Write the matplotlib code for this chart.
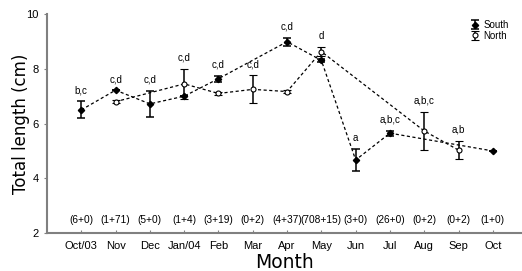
import numpy as np
import matplotlib
matplotlib.use("Agg")
import matplotlib.pyplot as plt

months = ["Oct/03", "Nov", "Dec", "Jan/04", "Feb", "Mar", "Apr", "May",
          "Jun", "Jul", "Aug", "Sep", "Oct"]
nan = np.nan
south_mean = [6.50, 7.22, 6.72, 7.00, 7.64, nan, 8.99, 8.31, 4.67, 5.65, nan, nan, 5.00]
south_err = [0.31, 0.0, 0.47, 0.0, 0.11, nan, 0.14, 0.05, 0.39, 0.09, nan, nan, 0.0]
north_mean = [nan, 6.80, nan, 7.45, 7.10, 7.25, 7.17, 8.63, nan, nan, 5.73, 5.03, nan]
north_err = [nan, 0.05, nan, 0.55, 0.07, 0.51, 0.07, 0.16, nan, nan, 0.70, 0.33, nan]
letters = ["b,c", "c,d", "c,d", "c,d", "c,d", "c,d", "c,d", "d", "a", "a,b,c",
           "a,b,c", "a,b", ""]
counts = ["(6+0)", "(1+71)", "(5+0)", "(1+4)", "(3+19)", "(0+2)", "(4+37)",
          "(708+15)", "(3+0)", "(26+0)", "(0+2)", "(0+2)", "(1+0)"]

plt.rcParams['font.family'] = ['Liberation Sans', 'DejaVu Sans']
fig = plt.figure(figsize=(5.22, 2.71), dpi=100)
ax = fig.add_axes([0.090, 0.140, 0.910, 0.808])

x = np.arange(1, len(months) + 1)
sm = np.array(south_mean); se = np.array(south_err)
nm = np.array(north_mean); ne = np.array(north_err)

dash = (0, (2.5, 2))
ms = ~np.isnan(sm)
mn = ~np.isnan(nm)
ax.plot(x[ms], sm[ms], color='black', lw=0.9, ls=dash, zorder=2)
ax.plot(x[mn], nm[mn], color='black', lw=0.9, ls=dash, zorder=2)

hs = ax.errorbar(x[ms], sm[ms], yerr=np.nan_to_num(se[ms]), fmt='D', ms=3.2,
                 mfc='black', mec='black', ecolor='black', elinewidth=1.1,
                 capsize=3, capthick=1.1, zorder=3, label='South')
hn = ax.errorbar(x[mn], nm[mn], yerr=np.nan_to_num(ne[mn]), fmt='o', ms=3.6,
                 mfc='white', mec='black', mew=0.8, ecolor='black', elinewidth=1.1,
                 capsize=3, capthick=1.1, zorder=3, label='North')

# significance letters above the highest point/error bar
for i in range(len(months)):
    if not letters[i]:
        continue
    tops = []
    if not np.isnan(sm[i]):
        tops.append(sm[i] + se[i])
    if not np.isnan(nm[i]):
        tops.append(nm[i] + ne[i])
    ax.annotate(letters[i], (x[i], max(tops)), xytext=(0, 8),
                textcoords='offset points', ha='center', va='center', fontsize=7)

for i, c in enumerate(counts):
    ax.text(x[i], 2.47, c, ha='center', va='center', fontsize=7.3)

ax.set_xlim(0, 13.85)
ax.set_ylim(2, 10)
ax.set_yticks([2, 4, 6, 8, 10])
ax.set_xticks(x)
ax.set_xticklabels(months, fontsize=8)
ax.tick_params(axis='y', labelsize=8, length=2.5, direction='out', color='#808080')
ax.tick_params(axis='x', length=2.5, direction='in', color='#808080', pad=6)
for s in ['top', 'right']:
    ax.spines[s].set_visible(False)
for s in ['left', 'bottom']:
    ax.spines[s].set_color('#808080')
    ax.spines[s].set_linewidth(1.5)

ax.set_xlabel('Month', fontsize=13.5, family=['DejaVu Sans'], labelpad=1)
ax.set_ylabel('Total length (cm)', fontsize=12, family=['DejaVu Sans'])
ax.yaxis.set_label_coords(-0.035, 0.5)

ax.legend(loc='upper right', bbox_to_anchor=(0.985, 1.0), frameon=False,
          fontsize=7, handlelength=1.2, handletextpad=0.3, labelspacing=0.1,
          borderaxespad=0.2)

fig.savefig('out.png', dpi=100)
